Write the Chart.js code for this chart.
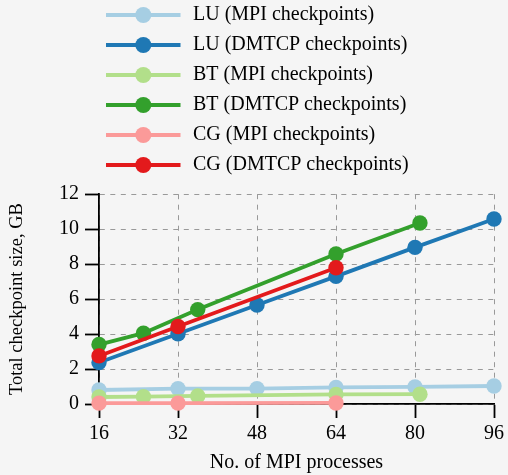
<!doctype html>
<html lang="en">
  <head>
    <meta charset="UTF-8" />
    <title>Checkpoint size</title>
    <script src="https://cdn.jsdelivr.net/npm/chart.js@4"></script>
    <style>
      html, body {
        margin: 0;
        padding: 0;
        background: #f5f5f5;
      }
      canvas {
        display: block;
      }
    </style>
  </head>
  <body>
    <canvas id="sizeChart" width="508" height="475"></canvas>

    <script>
      // values (GB)
      const luProcs = [16, 32, 48, 64, 80, 96];
      const luMpi = [0.8, 0.88, 0.88, 0.95, 0.98, 1.03];
      const luDmtcp = [2.37, 4.02, 5.66, 7.3, 8.96, 10.58];

      const btProcs = [16, 25, 36, 64, 81];
      const btMpi = [0.4, 0.42, 0.46, 0.55, 0.56];
      const btDmtcp = [3.4, 4.05, 5.4, 8.58, 10.35];

      const cgProcs = [16, 32, 64];
      const cgMpi = [0.05, 0.05, 0.06];
      const cgDmtcp = [2.75, 4.43, 7.79];

      const xTicks = [16, 32, 48, 64, 80, 96];
      const yTicks = [0, 2, 4, 6, 8, 10, 12];

      const seriesLabels = [
        "LU (MPI checkpoints)",
        "LU (DMTCP checkpoints)",
        "BT (MPI checkpoints)",
        "BT (DMTCP checkpoints)",
        "CG (MPI checkpoints)",
        "CG (DMTCP checkpoints)",
      ];
      const colors = ["#a6cee3", "#1f78b4", "#b2df8a", "#33a02c", "#fb9a99", "#e31a1c"];

      function pairs(xs, ys) {
        return xs.map((x, i) => ({ x: x, y: ys[i] }));
      }

      // legend sample: short line with a marker on it
      const sampleCache = {};
      function legendSample(color) {
        if (sampleCache[color]) return sampleCache[color];
        const c = document.createElement("canvas");
        c.width = 80;
        c.height = 20;
        const g = c.getContext("2d");
        g.strokeStyle = color;
        g.lineWidth = 4;
        g.beginPath();
        g.moveTo(0, 10);
        g.lineTo(74.5, 10);
        g.stroke();
        g.fillStyle = color;
        g.beginPath();
        g.arc(37.3, 10, 8, 0, Math.PI * 2);
        g.fill();
        sampleCache[color] = c;
        return c;
      }

      const series = [
        [luProcs, luMpi],
        [luProcs, luDmtcp],
        [btProcs, btMpi],
        [btProcs, btDmtcp],
        [cgProcs, cgMpi],
        [cgProcs, cgDmtcp],
      ];

      const datasets = series.map((s, i) => ({
        label: seriesLabels[i],
        data: pairs(s[0], s[1]),
        borderColor: colors[i],
        backgroundColor: colors[i],
        pointBackgroundColor: colors[i],
        pointBorderWidth: 0,
        pointRadius: 7.7,
        pointHoverRadius: 7.7,
        borderWidth: 3.8,
        showLine: true,
        clip: false,
        order: series.length - i, // later series drawn on top
      }));

      Chart.defaults.font.family = "'Liberation Serif', 'Times New Roman', serif";
      Chart.defaults.font.size = 20;
      Chart.defaults.color = "#000";

      const gridOpts = {
        color: "#999999",
        lineWidth: 1,
        tickColor: "#000",
        tickLength: 14,
        tickWidth: 1.8,
      };
      const borderOpts = { display: true, color: "#000", width: 1.8, dash: [5, 5.5] };

      const ctx = document.getElementById("sizeChart").getContext("2d");
      new Chart(ctx, {
        type: "scatter",
        data: { datasets: datasets },
        options: {
          responsive: false,
          animation: false,
          events: [],
          layout: { padding: { top: -5, right: 13, left: 0, bottom: 0 } },
          plugins: {
            legend: {
              position: "top",
              align: "start",
              fullSize: false,
              weight: 3000,
              labels: {
                usePointStyle: true,
                pointStyleWidth: 74,
                padding: 10,
                font: { size: 20 },
                generateLabels: (chart) =>
                  chart.data.datasets.map((ds, i) => ({
                    text: ds.label,
                    pointStyle: legendSample(ds.borderColor),
                    fillStyle: ds.borderColor,
                    strokeStyle: ds.borderColor,
                    lineWidth: 0,
                    fontColor: "#000",
                    hidden: false,
                    datasetIndex: i,
                  })),
              },
            },
            // empty title used as a gap between legend and plot
            title: {
              display: true,
              text: " ",
              font: { size: 1 },
              padding: { top: 0, bottom: 8 },
            },
            tooltip: { enabled: false },
          },
          scales: {
            x: {
              type: "linear",
              min: xTicks[0],
              max: xTicks[xTicks.length - 1],
              afterFit: (scale) => {
                scale.height = 71;
              },
              afterBuildTicks: (scale) => {
                scale.ticks = xTicks.map((v) => ({ value: v }));
              },
              ticks: { padding: 4 },
              grid: gridOpts,
              border: borderOpts,
              title: {
                display: true,
                text: "No. of MPI processes",
                padding: { top: 0, bottom: 0 },
              },
            },
            y: {
              min: yTicks[0],
              max: yTicks[yTicks.length - 1],
              afterFit: (scale) => {
                scale.width = 99;
              },
              afterBuildTicks: (scale) => {
                scale.ticks = yTicks.map((v) => ({ value: v }));
              },
              ticks: { padding: 6 },
              grid: gridOpts,
              border: borderOpts,
              title: {
                display: true,
                text: "Total checkpoint size, GB",
                font: { size: 18.5 },
                padding: { top: 6, bottom: 0 },
              },
            },
          },
        },
      });
    </script>
  </body>
</html>
